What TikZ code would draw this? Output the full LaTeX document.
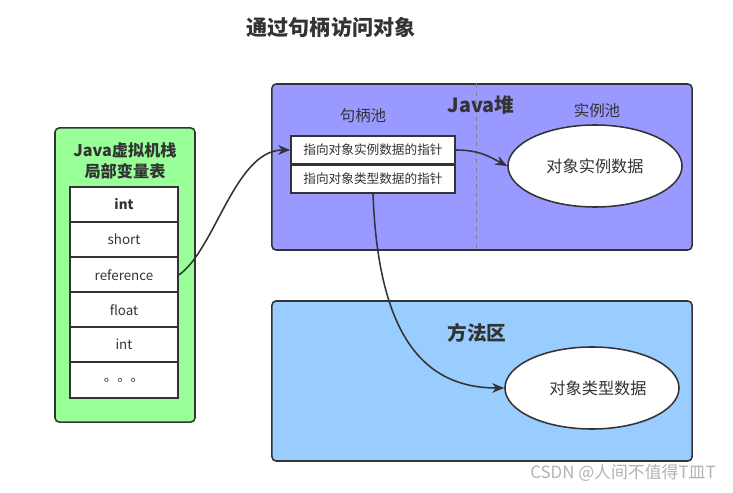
\documentclass[tikz,border=0pt]{standalone}
\usepackage{fontspec}
\setmainfont{Noto Sans CJK SC}
\usepackage{tikz}
\usetikzlibrary{shapes.geometric,arrows.meta,positioning,calc}
\usepackage{xcolor}
\definecolor{ink}{HTML}{333333}
\definecolor{stackgreen}{HTML}{99FF99}
\definecolor{heapblue}{HTML}{9999FF}
\definecolor{methodblue}{HTML}{99CCFF}

\begin{document}
\begin{tikzpicture}[x=0.025cm, y=-0.025cm,
  area/.style={rectangle, draw=ink, line width=1.1pt, fill=#1, rounded corners=3pt},
  slot/.style={rectangle, draw=ink, line width=1.1pt, fill=white, minimum width=2.7cm, minimum height=0.8875cm, font=\fontsize{9.5}{11}\selectfont, text=ink},
  ptr/.style={rectangle, draw=ink, line width=1.1pt, fill=white, minimum width=4.1cm, minimum height=0.7cm, font=\fontsize{9}{11}\selectfont, text=ink},
  obj/.style={ellipse, draw=ink, line width=1.1pt, fill=white, minimum width=4.35cm, minimum height=2.05cm, inner sep=0pt, font=\fontsize{11.5}{13}\selectfont, text=ink},
  head/.style={font=\fontsize{14}{16}\selectfont\bfseries, text=ink},
  sub/.style={font=\fontsize{11}{13}\selectfont, text=ink},
  arr/.style={-{Stealth[length=3mm, width=2.4mm]}, line width=1.1pt, ink}
]
  \useasboundingbox (0,0) rectangle (733,493);

  \node[head, font=\fontsize{15}{17}\selectfont\bfseries] (title) at (331,27) {通过句柄访问对象};

  % Java stack
  \node[area=stackgreen, minimum width=3.5cm, minimum height=7.35cm] (stack) at (125,275) {};
  \node[align=center, text=ink, font=\fontsize{11.5}{15}\selectfont\bfseries] (stacktitle) at (125,161) {Java虚拟机栈\\局部变量表};
  \node[slot, font=\fontsize{9.5}{11}\selectfont\bfseries] (s1) at (124,204.5) {int};
  \node[slot] (s2) at (124,239.5) {short};
  \node[slot] (s3) at (124,275) {reference};
  \node[slot] (s4) at (124,310) {float};
  \node[slot] (s5) at (124,344.5) {int};
  \node[slot] (s6) at (124,380) {。。。};

  % heap
  \node[area=heapblue, minimum width=10.5cm, minimum height=4.15cm] (heap) at (482,167) {};
  \draw[gray, dashed, line width=0.6pt] ([xshift=-0.15cm]heap.north) -- ([xshift=-0.15cm]heap.south);
  \node[head] (heaptitle) at (481,105) {Java堆};
  \node[sub] (handlepool) at (363,116) {句柄池};
  \node[sub] (instpool) at (597,111) {实例池};
  \node[ptr] (p1) at (373,150) {指向对象实例数据的指针};
  \node[ptr] (p2) at (373,179) {指向对象类型数据的指针};
  \node[obj] (inst) at (595,166) {对象实例数据};

  % method area
  \node[area=methodblue, minimum width=10.5cm, minimum height=4cm] (method) at (482,381) {};
  \node[head] (methodtitle) at (477,333) {方法区};
  \node[obj] (type) at (592,388) {\hspace{0.3cm}对象类型数据};

  \draw[arr] (s3.east) .. controls (215,250) and (235,150) .. (p1.west);
  \draw[arr] (p1.east) .. controls (480,150) and (490,157) .. (inst.west);
  \draw[arr] (p2.south) .. controls (378,330) and (420,388) .. (type.west);

  \node[text=gray!60, font=\fontsize{12}{14}\selectfont] (mark) at (623,473) {CSDN @人间不值得T皿T};
\end{tikzpicture}
\end{document}
